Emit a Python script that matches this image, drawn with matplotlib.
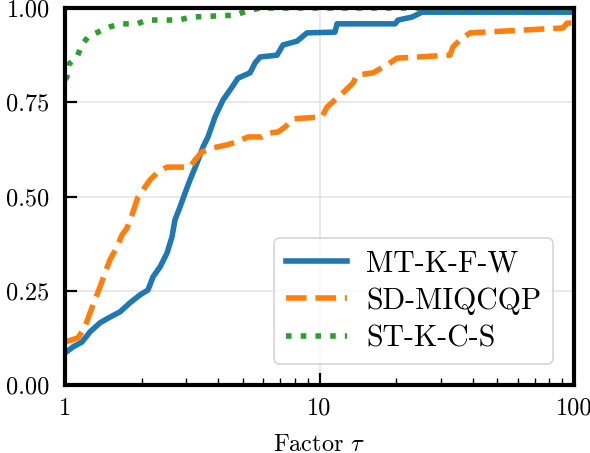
import matplotlib
matplotlib.use("Agg")
import matplotlib.pyplot as plt
from matplotlib.ticker import FixedLocator, FixedFormatter, NullFormatter

plt.rcParams['font.family'] = 'serif'
plt.rcParams['font.serif'] = ['cmr10']
plt.rcParams['mathtext.fontset'] = 'cm'
plt.rcParams['axes.formatter.use_mathtext'] = True

# ---- data ----
labels = ["MT-K-F-W", "SD-MIQCQP", "ST-K-C-S"]

tau_mt = [1.000, 1.075, 1.166, 1.254, 1.373, 1.502, 1.645, 1.800, 1.971, 2.119,
          2.218, 2.362, 2.517, 2.633, 2.705, 2.830, 2.962, 3.099, 3.301, 3.485,
          3.647, 3.886, 4.177, 4.531, 4.783, 5.333, 5.581, 5.839, 6.81, 7.19,
          8.16, 8.93, 11.50, 11.72, 19.81, 20.35, 23.09, 25.29, 100.0]
rho_mt = [0.085, 0.101, 0.114, 0.141, 0.165, 0.180, 0.194, 0.218, 0.239, 0.252,
          0.287, 0.313, 0.350, 0.393, 0.438, 0.472, 0.509, 0.544, 0.589, 0.631,
          0.658, 0.711, 0.756, 0.790, 0.814, 0.828, 0.854, 0.870, 0.875, 0.902,
          0.912, 0.934, 0.936, 0.958, 0.958, 0.968, 0.976, 0.989, 0.989]

tau_sd = [1.000, 1.125, 1.198, 1.254, 1.312, 1.373, 1.436, 1.502, 1.601, 1.675,
          1.752, 1.834, 1.936, 2.025, 2.158, 2.299, 2.517, 3.099, 3.243, 3.454,
          3.815, 4.33, 4.74, 5.24, 5.94, 6.28, 6.87, 7.32, 7.87, 10.23,
          10.70, 11.50, 12.37, 13.54, 14.04, 16.23, 18.42, 20.17, 32.57, 33.47,
          35.65, 39.04, 90.5, 93.9, 100.0]
rho_sd = [0.114, 0.125, 0.154, 0.191, 0.226, 0.260, 0.297, 0.332, 0.366, 0.398,
          0.416, 0.451, 0.499, 0.517, 0.544, 0.562, 0.578, 0.578, 0.597, 0.618,
          0.629, 0.637, 0.645, 0.658, 0.658, 0.668, 0.671, 0.684, 0.706, 0.711,
          0.737, 0.756, 0.775, 0.801, 0.822, 0.828, 0.849, 0.867, 0.875, 0.897,
          0.915, 0.934, 0.947, 0.960, 0.960]

tau_st = [1.000, 1.018, 1.027, 1.115, 1.166, 1.231, 1.348, 1.502, 1.645, 1.919,
          2.101, 2.780, 3.155, 4.656, 5.189, 5.839, 100.0]
rho_st = [0.810, 0.817, 0.849, 0.870, 0.902, 0.923, 0.936, 0.950, 0.958, 0.958,
          0.968, 0.968, 0.976, 0.981, 0.992, 1.000, 1.000]

xticks = [1, 10, 100]
xtick_labels = ["1", "10", "100"]
yticks = [0.0, 0.25, 0.5, 0.75, 1.0]

# ---- figure ----
W, H = 590, 453
fig = plt.figure(figsize=(W / 100, H / 100), dpi=100)
ax = fig.add_axes([65 / W, (H - 385) / H, 509 / W, 377 / H])

colors = ["#1f77b4", "#ff7f0e", "#2ca02c"]
ax.plot(tau_mt, rho_mt, color=colors[0], lw=4, ls='-', label=labels[0], zorder=3)
ax.plot(tau_sd, rho_sd, color=colors[1], lw=4, ls='--', label=labels[1], zorder=3)
ax.plot(tau_st, rho_st, color=colors[2], lw=4, ls=':', label=labels[2], zorder=3)

ax.set_xscale('log')
ax.set_xlim(1, 100)
ax.set_ylim(0, 1)
ax.xaxis.set_major_locator(FixedLocator(xticks))
ax.xaxis.set_major_formatter(FixedFormatter(xtick_labels))
ax.xaxis.set_minor_formatter(NullFormatter())
ax.set_yticks(yticks)
ax.set_yticklabels([f"{v:.2f}" for v in yticks])

ax.grid(True, which='major', color='#e3e3e3', lw=1.1, zorder=0)
ax.set_axisbelow(True)

for s in ax.spines.values():
    s.set_linewidth(3.0)
    s.set_zorder(4)

ax.tick_params(which='major', direction='in', length=8.5, width=1.6,
               labelsize=17.5, pad=9)
ax.tick_params(axis='y', which='major', pad=11)
ax.tick_params(which='minor', direction='in', length=5, width=1.0)

ax.set_xlabel(r'Factor $\tau$', fontsize=17.5, labelpad=10)

leg = ax.legend(loc='lower right', fontsize=21.5, handlelength=2.05,
                handletextpad=0.64, borderaxespad=0.7, labelspacing=0.33,
                borderpad=0.4,
                fancybox=True, framealpha=0.8, edgecolor='#cccccc')
leg.get_frame().set_linewidth(1.2)

fig.savefig("out.png", dpi=100)
